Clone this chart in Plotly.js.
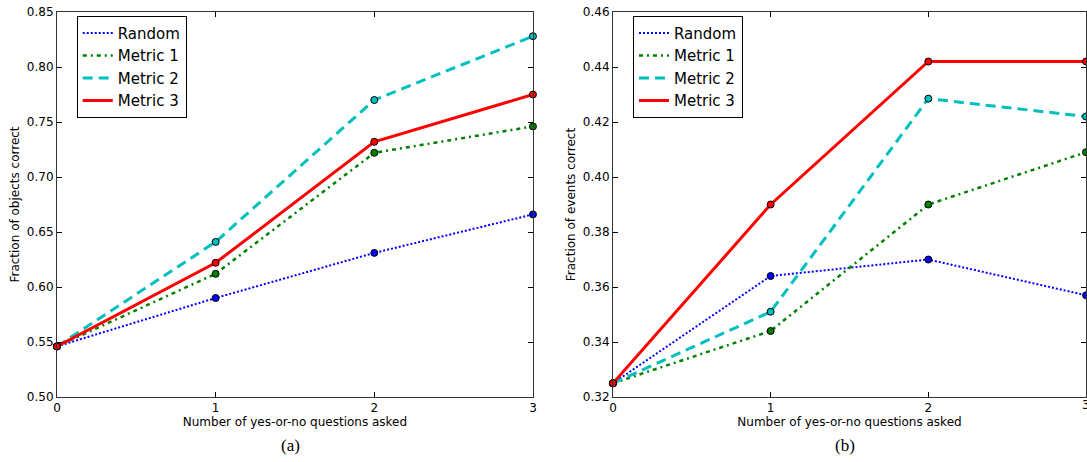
<!DOCTYPE html>
<html>
<head>
<meta charset="utf-8">
<script src="https://cdn.plot.ly/plotly-3.0.1.min.js"></script>
<style>html,body{margin:0;padding:0;background:#fff;}#chart{width:1087px;height:462px;}</style>
</head>
<body>
<div id="chart"></div>
<script>
// Data
const questions = [0, 1, 2, 3];
const seriesNames = ["Random", "Metric 1", "Metric 2", "Metric 3"];
// (a) Fraction of objects correct
const objRandom  = [0.546, 0.590, 0.631, 0.666];
const objMetric1 = [0.546, 0.612, 0.722, 0.746];
const objMetric2 = [0.546, 0.641, 0.770, 0.828];
const objMetric3 = [0.546, 0.622, 0.732, 0.775];
// (b) Fraction of events correct
const evRandom  = [0.325, 0.364, 0.370, 0.357];
const evMetric1 = [0.325, 0.344, 0.390, 0.409];
const evMetric2 = [0.325, 0.351, 0.4285, 0.422];
const evMetric3 = [0.325, 0.390, 0.442, 0.442];
const xTickVals = [0, 1, 2, 3];
const objTicks = [0.50, 0.55, 0.60, 0.65, 0.70, 0.75, 0.80, 0.85];
const evTicks = [0.32, 0.34, 0.36, 0.38, 0.40, 0.42, 0.44, 0.46];

const styles = [
  {color: "#0000ff", dash: "2px,2px", width: 2},
  {color: "#008000", dash: "4px,4px,2px,4px", width: 2.5},
  {color: "#00bfbf", dash: "10px,6px", width: 3},
  {color: "#ff0000", dash: "solid", width: 3}
];

function lineTrace(y, i, xa, ya, leg) {
  return {
    x: questions, y: y, name: seriesNames[i], type: "scatter", mode: "lines",
    xaxis: xa, yaxis: ya, legend: leg, cliponaxis: false,
    line: {color: styles[i].color, dash: styles[i].dash, width: styles[i].width}
  };
}
function markTrace(y, i, xa, ya) {
  return {
    x: questions, y: y, name: seriesNames[i], type: "scatter", mode: "markers",
    xaxis: xa, yaxis: ya, showlegend: false, cliponaxis: false,
    marker: {symbol: "circle", size: 7, color: styles[i].color, line: {color: "#000", width: 1}}
  };
}
const objSeries = [objRandom, objMetric1, objMetric2, objMetric3];
const evSeries = [evRandom, evMetric1, evMetric2, evMetric3];
const data = [];
objSeries.forEach((s, i) => data.push(lineTrace(s, i, "x", "y", "legend")));
objSeries.forEach((s, i) => data.push(markTrace(s, i, "x", "y")));
evSeries.forEach((s, i) => data.push(lineTrace(s, i, "x2", "y2", "legend2")));
evSeries.forEach((s, i) => data.push(markTrace(s, i, "x2", "y2")));

const font = {family: "DejaVu Sans", size: 12, color: "#000"};
function xax(domain, anchor) {
  return {
    domain: domain, anchor: anchor, range: [0, 3], tickvals: xTickVals,
    ticks: "inside", ticklen: 5, tickcolor: "#000", mirror: "ticks",
    showline: true, linecolor: "#333", linewidth: 1, showgrid: false, zeroline: false,
    tickfont: font,
    title: {text: "Number of yes-or-no questions asked", font: font, standoff: 3}
  };
}
function yax(anchor, ticks, title) {
  return {
    domain: [0.1407, 0.974], anchor: anchor, range: [ticks[0], ticks[ticks.length - 1]],
    tickvals: ticks, tickformat: ".2f",
    ticks: "inside", ticklen: 5, tickcolor: "#000", mirror: "ticks",
    showline: true, linecolor: "#333", linewidth: 1, showgrid: false, zeroline: false,
    tickfont: font,
    title: {text: title, font: font, standoff: 4}
  };
}
const legFont = {family: "DejaVu Sans", size: 15, color: "#000"};
const capFont = {family: "Liberation Serif", size: 17, color: "#000"};
const layout = {
  width: 1087, height: 462,
  margin: {l: 0, r: 0, t: 0, b: 0},
  paper_bgcolor: "#fff", plot_bgcolor: "#fff",
  showlegend: true,
  xaxis: xax([0.0524, 0.4903], "y"),
  yaxis: yax("x", objTicks, "Fraction of objects correct"),
  xaxis2: xax([0.5639, 0.9991], "y2"),
  yaxis2: yax("x2", evTicks, "Fraction of events correct"),
  legend: {x: 0.0706, y: 0.966, xanchor: "left", yanchor: "top", bgcolor: "#fff",
           bordercolor: "#000", borderwidth: 1, font: legFont, tracegroupgap: 0},
  legend2: {x: 0.5823, y: 0.966, xanchor: "left", yanchor: "top", bgcolor: "#fff",
            bordercolor: "#000", borderwidth: 1, font: legFont, tracegroupgap: 0},
  annotations: [
    {text: "(a)", x: 290 / 1087, y: 1 - 445 / 462, xref: "paper", yref: "paper",
     xanchor: "center", yanchor: "middle", showarrow: false, font: capFont},
    {text: "(b)", x: 845 / 1087, y: 1 - 445 / 462, xref: "paper", yref: "paper",
     xanchor: "center", yanchor: "middle", showarrow: false, font: capFont},
    {text: "3", x: xTickVals[3], xref: "x2", y: 1 - 405 / 462, yref: "paper",
     xanchor: "center", yanchor: "middle", showarrow: false, font: font}
  ]
};
Plotly.newPlot("chart", data, layout, {displayModeBar: false, staticPlot: true});
</script>
</body>
</html>
